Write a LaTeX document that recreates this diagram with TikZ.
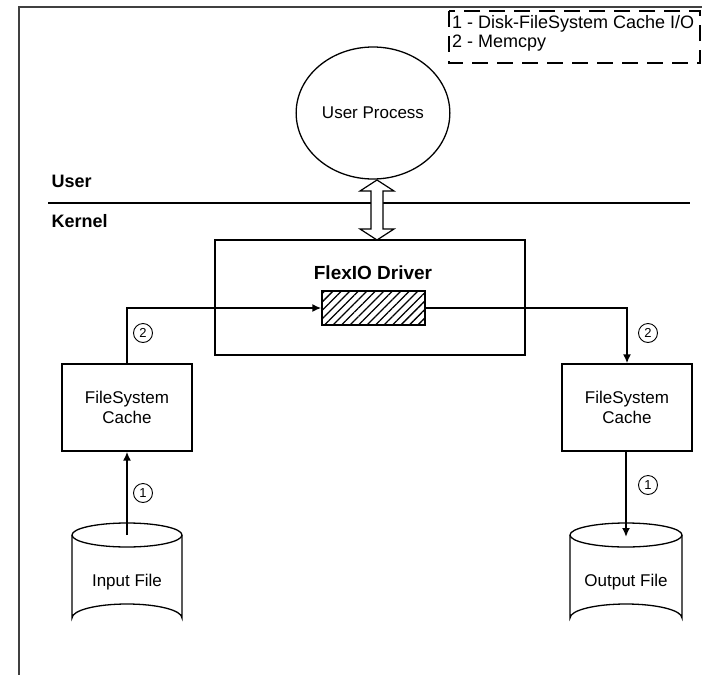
\documentclass[tikz,border=0pt]{standalone}
\usepackage{fontspec}
\setmainfont{Liberation Sans}
\usetikzlibrary{shapes.geometric,arrows.meta,patterns.meta}
\tikzset{
  txt/.style={font=\fontsize{17}{20}\selectfont, align=center},
  legtxt/.style={font=\fontsize{18}{20}\selectfont, anchor=west, inner sep=1pt},
  boldlbl/.style={font=\fontsize{18}{21}\selectfont\bfseries, anchor=west},
  boxnode/.style={draw, line width=1.3pt, txt},
  flow/.style={line width=2.6pt, -{Latex[length=9pt,width=8pt]}},
  circnum/.style={draw, circle, line width=0.9pt, minimum size=19pt, inner sep=0pt, font=\fontsize{13}{15}\selectfont},
  frame/.style={line width=1.8pt, draw=black!75},
  cyl/.style={line width=1.3pt}
}
\begin{document}
\begin{tikzpicture}[x=1pt,y=-1pt]
\useasboundingbox (0,0) rectangle (702,675);
% outer frame
\draw[frame] (19,675) -- (19,7) -- (702,7);
% legend
\draw[line width=1.3pt, dash pattern=on 16pt off 9pt] (449,11) rectangle (700,63);
\node[legtxt] (leg1) at (451,24) {1 - Disk-FileSystem Cache I/O};
\node[legtxt] (leg2) at (451,43) {2 - Memcpy};
% user process
\node[draw, ellipse, line width=1.3pt, minimum width=150pt, minimum height=132pt, txt] (up) at (373,113) {User Process};
% user/kernel line
\draw[line width=1.5pt] (48,203) -- (690,203);
\node[boldlbl] (user) at (48,181) {User};
\node[boldlbl] (kernel) at (48,221) {Kernel};
% driver box
\node[boxnode, minimum width=310pt, minimum height=115pt] (drv) at (370,297.5) {};
\node[font=\fontsize{19}{22}\selectfont\bfseries] (drvlbl) at (373,273) {FlexIO Driver};
\node[draw, line width=1.3pt, minimum width=103pt, minimum height=34pt, inner sep=0pt,
      pattern={Lines[angle=45,distance=6pt,line width=1.3pt]}] (buf) at (373.5,308) {};
% hollow double arrow
\draw[line width=1.2pt, fill=white] (377,180) -- (394,191) -- (383,191) -- (383,229) -- (394,229) -- (377,240) -- (360,229) -- (371,229) -- (371,191) -- (360,191) -- cycle;
% caches
\node[boxnode, minimum width=130pt, minimum height=87pt] (lc) at (127,407.5) {FileSystem\\Cache};
\node[boxnode, minimum width=130pt, minimum height=87pt] (rc) at (627,407.5) {FileSystem\\Cache};
% cylinders
\draw[cyl] (127,535) ellipse[x radius=55, y radius=12];
\draw[cyl] (72,535) -- (72,618) arc[start angle=180, end angle=360, x radius=55, y radius=14] -- (182,535);
\coordinate (intop) at (127,535);
\node[txt] (inlbl) at (127,582) {Input File};
\draw[cyl] (626,535) ellipse[x radius=56, y radius=12];
\draw[cyl] (570,535) -- (570,618) arc[start angle=180, end angle=360, x radius=56, y radius=14] -- (682,535);
\coordinate (outtop) at (626,535);
\node[txt] (outlbl) at (626,582) {Output File};
% flows
\draw[flow] (lc.north) |- (buf.west);
\draw[flow] (buf.east) -| (rc.north);
\draw[flow] (intop) -- (lc.south);
\draw[flow] ([xshift=-1pt]rc.south) -- ([yshift=-2pt]outtop);
% circled numbers
\node[circnum] (c2l) at (143,333) {2};
\node[circnum] (c2r) at (648,333) {2};
\node[circnum] (c1l) at (143,493) {1};
\node[circnum] (c1r) at (648,485) {1};
\end{tikzpicture}
\end{document}
